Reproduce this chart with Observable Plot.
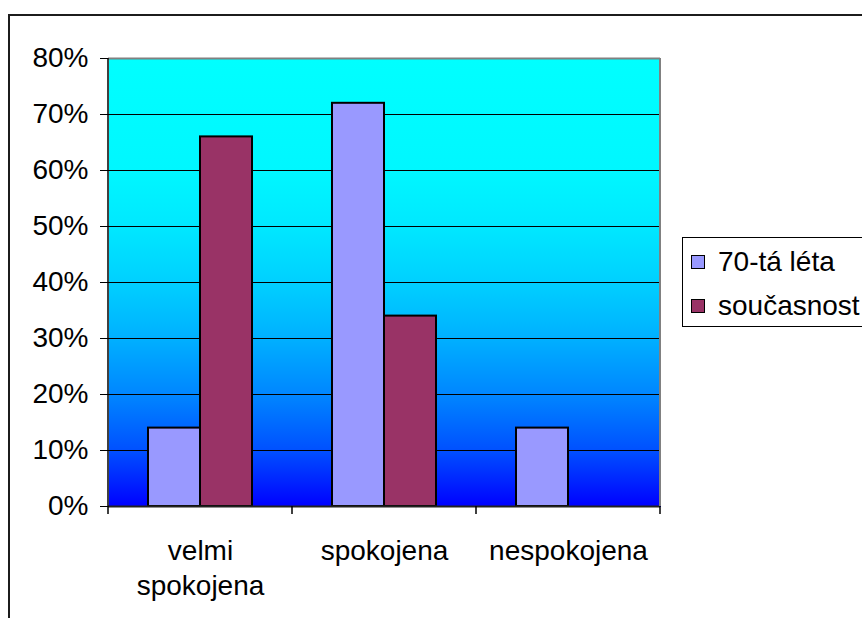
<!DOCTYPE html>
<html>
<head>
<meta charset="utf-8">
<script src="https://cdn.jsdelivr.net/npm/d3@7"></script>
<script src="https://cdn.jsdelivr.net/npm/@observablehq/plot@0.6"></script>
<style>
  html, body { margin: 0; padding: 0; background: #fff; }
  #wrap { position: relative; width: 862px; height: 618px; overflow: hidden; font-family: Arial, "Liberation Sans", sans-serif; }
  #border { position: absolute; left: 8px; top: 14px; width: 900px; height: 700px; border-top: 2px solid #1c1c1c; border-left: 2px solid #1c1c1c; box-sizing: border-box; }
  #chart { position: absolute; left: 0; top: 0; }
  #legend { position: absolute; left: 682px; top: 237px; width: 220px; height: 90px; border: 1px solid #000; box-sizing: border-box; background: #fff; padding-top: 2px; font-size: 28px; color: #000; }
  .item { height: 44px; display: flex; align-items: center; padding-left: 8px; white-space: nowrap; }
  .swatch { width: 14px; height: 14px; border: 1.5px solid #000; box-sizing: border-box; margin-right: 13px; }
</style>
</head>
<body>
<svg width="0" height="0" style="position:absolute">
  <defs>
    <linearGradient id="plotBg" x1="0" y1="1" x2="0" y2="0">
      <stop offset="0" stop-color="#0000ff"/>
      <stop offset="0.125" stop-color="#0050ff"/>
      <stop offset="0.25" stop-color="#0086ff"/>
      <stop offset="0.375" stop-color="#00b0ff"/>
      <stop offset="0.5" stop-color="#00d0ff"/>
      <stop offset="0.625" stop-color="#00e8ff"/>
      <stop offset="0.75" stop-color="#00f7ff"/>
      <stop offset="1" stop-color="#00ffff"/>
    </linearGradient>
  </defs>
</svg>
<div id="wrap">
  <div id="border"></div>
  <div id="chart"></div>
  <div id="legend"></div>
</div>
<script>
// Categories of satisfaction and the two compared periods
const categories = ["velmi spokojena", "spokojena", "nespokojena"];
const categoryLabels = ["velmi\nspokojena", "spokojena", "nespokojena"];
const series = ["70-tá léta", "současnost"];
const seriesColors = ["#9999ff", "#993366"];

// Share of respondents (%) per category
const values70s = [14, 72, 14];
const valuesNow = [66, 34, 0];

// Y axis ticks (%)
const yTicks = [0, 10, 20, 30, 40, 50, 60, 70, 80];

const data = [];
categories.forEach((c, i) => {
  data.push({cat: c, series: series[0], value: values70s[i]});
  data.push({cat: c, series: series[1], value: valuesNow[i]});
});

const chart = Plot.plot({
  width: 862,
  height: 618,
  marginLeft: 108,
  marginTop: 58,
  marginRight: 202,
  marginBottom: 112,
  style: {fontFamily: 'Arial, "Liberation Sans", sans-serif', fontSize: "28px", color: "#000", background: "transparent", overflow: "visible"},
  fx: {domain: categories, padding: 0},
  x: {domain: series, paddingInner: 0, paddingOuter: 0.75, axis: null},
  y: {domain: [0, 80]},
  color: {domain: series, range: seriesColors},
  marks: [
    // gradient plot background, one seamless panel per category
    Plot.frame({fill: "url(#plotBg)", stroke: "none", shapeRendering: "crispEdges"}),
    Plot.ruleY(yTicks.filter(t => t > 0 && t < 80), {stroke: "#000", strokeWidth: 1}),
    Plot.barY(data, {fx: "cat", x: "series", y: "value", fill: "series", stroke: "#000", strokeWidth: 2}),
    Plot.ruleY([0], {stroke: "#222", strokeWidth: 2}),
    Plot.ruleY([80], {stroke: "#808080", strokeWidth: 2}),
    Plot.axisY(yTicks, {
      tickFormat: d => d + "%",
      tickSize: 8,
      tickPadding: 12,
      fontSize: 28,
      stroke: "#000",
      label: null
    }),
    Plot.axisFx({
      anchor: "bottom",
      tickSize: 0,
      tickPadding: 29,
      fontSize: 28,
      lineHeight: 1.25,
      tickFormat: d => categoryLabels[categories.indexOf(d)],
      label: null
    })
  ]
});
document.getElementById("chart").appendChild(chart);

// Plot-area edges and category boundary ticks, placed from the chart's scales
const fx = chart.scale("fx");
const y = chart.scale("y");
const svg = d3.select(chart);
const yTop = y.apply(80), yBottom = y.apply(0);
const xLeft = fx.apply(categories[0]);
const xRight = fx.apply(categories[categories.length - 1]) + fx.bandwidth;
const g = svg.append("g");
g.append("line").attr("x1", xRight).attr("x2", xRight).attr("y1", yTop).attr("y2", yBottom)
  .attr("stroke", "#808080").attr("stroke-width", 2);
g.append("line").attr("x1", xLeft).attr("x2", xLeft).attr("y1", yTop).attr("y2", yBottom)
  .attr("stroke", "#000").attr("stroke-width", 1.5);
const bounds = categories.map(c => fx.apply(c)).concat([xRight]);
g.selectAll("line.tick").data(bounds).join("line")
  .attr("class", "tick")
  .attr("x1", d => d).attr("x2", d => d)
  .attr("y1", yBottom).attr("y2", yBottom + 8)
  .attr("stroke", "#000").attr("stroke-width", 1.5);

// Legend built from the series and their colors
const legend = d3.select("#legend");
series.forEach((s, i) => {
  const item = legend.append("div").attr("class", "item");
  item.append("div").attr("class", "swatch").style("background", seriesColors[i]);
  item.append("span").text(s);
});
</script>
</body>
</html>
